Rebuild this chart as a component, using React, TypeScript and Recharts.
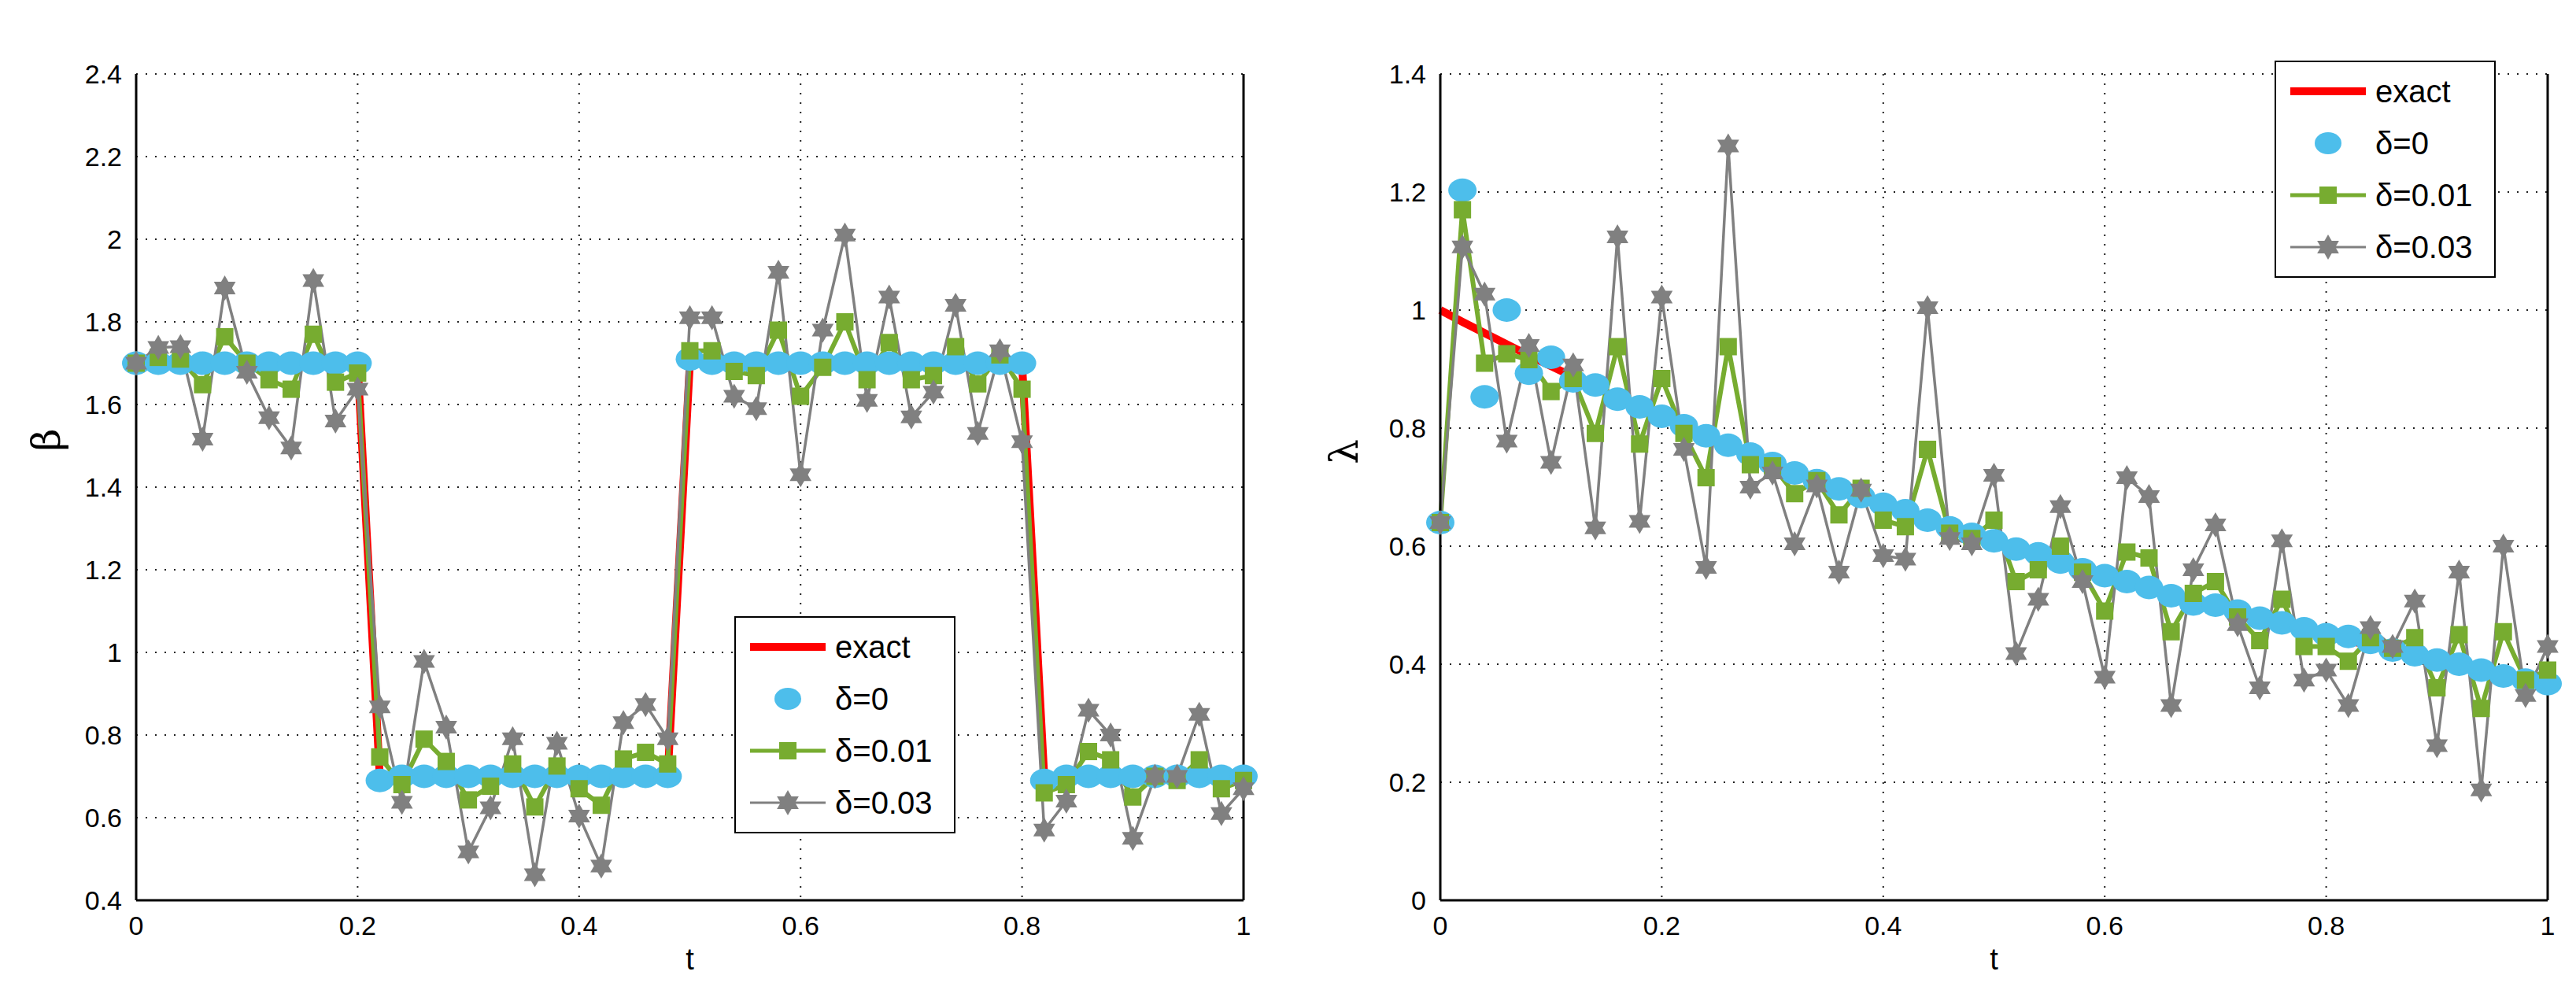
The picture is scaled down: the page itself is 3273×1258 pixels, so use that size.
import React from "react";
import { LineChart, Line, XAxis, YAxis, CartesianGrid } from "recharts";

const tValues = [0,0.02,0.04,0.06,0.08,0.1,0.12,0.14,0.16,0.18,0.2,0.22,0.24,0.26,0.28,0.3,0.32,0.34,0.36,0.38,0.4,0.42,0.44,0.46,0.48,0.5,0.52,0.54,0.56,0.58,0.6,0.62,0.64,0.66,0.68,0.7,0.72,0.74,0.76,0.78,0.8,0.82,0.84,0.86,0.88,0.9,0.92,0.94,0.96,0.98,1];

const betaExact = [1.7,1.7,1.7,1.7,1.7,1.7,1.7,1.7,1.7,1.7,1.7,0.7,0.7,0.7,0.7,0.7,0.7,0.7,0.7,0.7,0.7,0.7,0.7,0.7,0.7,1.7,1.7,1.7,1.7,1.7,1.7,1.7,1.7,1.7,1.7,1.7,1.7,1.7,1.7,1.7,1.7,0.7,0.7,0.7,0.7,0.7,0.7,0.7,0.7,0.7,0.7];
const betaD0 = [1.7,1.7,1.7,1.7,1.7,1.7,1.7,1.7,1.7,1.7,1.7,0.69,0.7,0.7,0.7,0.7,0.7,0.7,0.7,0.7,0.7,0.7,0.7,0.7,0.7,1.71,1.7,1.7,1.7,1.7,1.7,1.7,1.7,1.7,1.7,1.7,1.7,1.7,1.7,1.7,1.7,0.69,0.7,0.7,0.7,0.7,0.7,0.7,0.7,0.7,0.7];
const betaD01 = [1.7,1.714,1.71,1.648,1.764,1.7,1.66,1.637,1.77,1.654,1.676,0.747,0.68,0.79,0.736,0.643,0.676,0.73,0.626,0.725,0.67,0.63,0.742,0.758,0.73,1.73,1.73,1.68,1.67,1.78,1.62,1.69,1.8,1.66,1.75,1.66,1.67,1.74,1.65,1.72,1.637,0.66,0.68,0.76,0.74,0.65,0.7,0.69,0.74,0.67,0.69];
const betaD03 = [1.7,1.738,1.74,1.516,1.882,1.678,1.568,1.495,1.9,1.56,1.637,0.868,0.637,0.978,0.819,0.517,0.624,0.791,0.462,0.78,0.604,0.483,0.83,0.874,0.791,1.81,1.81,1.62,1.59,1.92,1.43,1.78,2.01,1.61,1.86,1.57,1.63,1.84,1.53,1.73,1.51,0.57,0.64,0.86,0.8,0.55,0.7,0.7,0.85,0.61,0.67];

const lamExact = [1,0.98,0.961,0.942,0.923,0.905,0.887,0.869,0.852,0.835,0.819,0.803,0.787,0.771,0.756,0.741,0.726,0.712,0.698,0.684,0.67,0.657,0.644,0.631,0.619,0.607,0.595,0.583,0.571,0.56,0.549,0.538,0.527,0.517,0.507,0.497,0.487,0.477,0.468,0.458,0.449,0.44,0.432,0.423,0.415,0.407,0.399,0.391,0.383,0.375,0.368];
const lamD0 = [0.64,1.203,0.853,1.0,0.893,0.92,0.88,0.873,0.849,0.836,0.82,0.804,0.787,0.771,0.756,0.74,0.724,0.711,0.697,0.684,0.671,0.66,0.644,0.631,0.62,0.609,0.595,0.587,0.573,0.56,0.55,0.54,0.53,0.516,0.502,0.5,0.49,0.478,0.47,0.46,0.45,0.447,0.437,0.424,0.416,0.407,0.4,0.39,0.38,0.373,0.367];
const lamD01 = [0.64,1.17,0.91,0.926,0.916,0.862,0.884,0.791,0.938,0.773,0.884,0.791,0.716,0.938,0.738,0.736,0.689,0.711,0.653,0.698,0.644,0.633,0.764,0.622,0.613,0.644,0.54,0.56,0.6,0.556,0.49,0.59,0.58,0.455,0.52,0.54,0.48,0.44,0.51,0.43,0.43,0.405,0.445,0.427,0.445,0.36,0.45,0.325,0.455,0.373,0.39];
const lamD03 = [0.64,1.107,1.027,0.778,0.94,0.742,0.907,0.631,1.124,0.642,1.022,0.764,0.564,1.278,0.7,0.724,0.604,0.702,0.556,0.695,0.584,0.578,1.004,0.613,0.604,0.72,0.418,0.51,0.667,0.54,0.378,0.716,0.684,0.33,0.56,0.636,0.467,0.36,0.609,0.373,0.39,0.33,0.462,0.43,0.507,0.262,0.556,0.187,0.6,0.347,0.43];

const betaTicks = [0.4,0.6,0.8,1,1.2,1.4,1.6,1.8,2,2.2,2.4];
const lamTicks = [0,0.2,0.4,0.6,0.8,1,1.2,1.4];
const tTicks = [0,0.2,0.4,0.6,0.8,1];
const legendNames = ["exact", "δ=0", "δ=0.01", "δ=0.03"];

const RED = "#ff0000", BLUE = "#4dbeeb", GREEN = "#77ac30", GRAY = "#808080";
const FONT = "'Liberation Sans', Arial, sans-serif";

const build = (a: number[], b: number[], c: number[], d: number[]) =>
  tValues.map((t, i) => ({ t, exact: a[i], d0: b[i], d01: c[i], d03: d[i] }));

const fmt = (v: number) => String(Math.round(v * 10) / 10);

const Circle = (p: any) => p.cx == null ? null : <ellipse cx={p.cx} cy={p.cy} rx={18} ry={15} fill={BLUE} />;
const Square = (p: any) => p.cx == null ? null : <rect x={p.cx - 11} y={p.cy - 11} width={22} height={22} fill={GREEN} />;
const starPath = (cx: number, cy: number, r: number) => {
  const pts = (off: number) => [0, 1, 2].map(k => {
    const a = off + (k * 2 * Math.PI) / 3;
    return `${cx + r * Math.sin(a)},${cy - r * Math.cos(a)}`;
  }).join(" ");
  return [pts(0), pts(Math.PI)];
};
const Star = (p: any) => {
  if (p.cx == null) return null;
  const [a, b] = starPath(p.cx, p.cy, 16);
  return <g><polygon points={a} fill={GRAY} /><polygon points={b} fill={GRAY} /></g>;
};

const LegendBox = ({ left, top }: any) => (
  <div style={{ position: "absolute", left, top, border: "2px solid #000", background: "#fff", padding: "4px 28px 4px 18px", fontFamily: FONT, fontSize: 40, lineHeight: "66px" }}>
    {legendNames.map((n, i) => (
      <div key={n} style={{ display: "flex", alignItems: "center" }}>
        <svg width={96} height={40} style={{ marginRight: 12 }}>
          {i === 0 && <line x1={0} y1={20} x2={96} y2={20} stroke={RED} strokeWidth={10} />}
          {i === 1 && <ellipse cx={48} cy={20} rx={17} ry={14} fill={BLUE} />}
          {i === 2 && <g><line x1={0} y1={20} x2={96} y2={20} stroke={GREEN} strokeWidth={5} /><rect x={37} y={9} width={22} height={22} fill={GREEN} /></g>}
          {i === 3 && <g><line x1={0} y1={20} x2={96} y2={20} stroke={GRAY} strokeWidth={3} />{starPath(48, 20, 16).map((s, k) => <polygon key={k} points={s} fill={GRAY} />)}</g>}
        </svg>
        <span>{n}</span>
      </div>
    ))}
  </div>
);

const Panel = ({ data, domain, ticks }: any) => (
  <LineChart width={1636} height={1258} data={data} margin={{ top: 94, right: 0, bottom: 14, left: 73 }}>
    <CartesianGrid stroke="#222" strokeDasharray="2 10" strokeWidth={2} xAxisId="x" yAxisId="y" />
    <XAxis xAxisId="x" dataKey="t" type="number" domain={[0, 1]} ticks={tTicks} tickFormatter={fmt} stroke="#000" strokeWidth={3}
      tick={{ fontSize: 34, fill: "#000", fontFamily: FONT }} tickLine={false} height={100} tickMargin={14}
      label={{ value: "t", position: "insideBottom", offset: 12, fontSize: 38, fill: "#000", fontFamily: FONT }} />
    <XAxis xAxisId="top" orientation="top" dataKey="t" type="number" domain={[0, 1]} ticks={tTicks} tick={false} tickLine={false} stroke="#000" strokeWidth={3} height={0} />
    <YAxis yAxisId="y" domain={domain} ticks={ticks} tickFormatter={fmt} stroke="#000" strokeWidth={3} width={100} allowDataOverflow
      tick={{ fontSize: 34, fill: "#000", fontFamily: FONT }} tickLine={false} tickMargin={12} />
    <YAxis yAxisId="r" orientation="right" domain={domain} ticks={ticks} tick={false} tickLine={false} stroke="#000" strokeWidth={3} width={56} />
    <Line xAxisId="x" yAxisId="y" dataKey="exact" stroke={RED} strokeWidth={10} dot={false} isAnimationActive={false} />
    <Line xAxisId="x" yAxisId="y" dataKey="d0" stroke="none" dot={<Circle />} activeDot={false} isAnimationActive={false} />
    <Line xAxisId="x" yAxisId="y" dataKey="d01" stroke={GREEN} strokeWidth={6} dot={<Square />} activeDot={false} isAnimationActive={false} />
    <Line xAxisId="x" yAxisId="y" dataKey="d03" stroke={GRAY} strokeWidth={3.5} dot={<Star />} activeDot={false} isAnimationActive={false} />
  </LineChart>
);

const axisLabel = (text: string, left: number, top: number) => (
  <div style={{ position: "absolute", left, top, fontSize: 50, fontFamily: "'DejaVu Serif', serif", transform: "rotate(-90deg)", transformOrigin: "center" }}>{text}</div>
);

export default function App() {
  return (
    <div style={{ position: "absolute", left: 0, top: 0, width: 3273, height: 1258, background: "#fff" }}>
      <div style={{ position: "absolute", left: 0, top: 0 }}>
        <Panel data={build(betaExact, betaD0, betaD01, betaD03)} domain={[0.4, 2.4]} ticks={betaTicks} />
      </div>
      <div style={{ position: "absolute", left: 1657, top: 0 }}>
        <Panel data={build(lamExact, lamD0, lamD01, lamD03)} domain={[0, 1.4]} ticks={lamTicks} />
      </div>
      {axisLabel("β", 45, 530)}
      {axisLabel("λ", 1692, 545)}
      <LegendBox left={933} top={783} />
      <LegendBox left={2890} top={77} />
    </div>
  );
}
